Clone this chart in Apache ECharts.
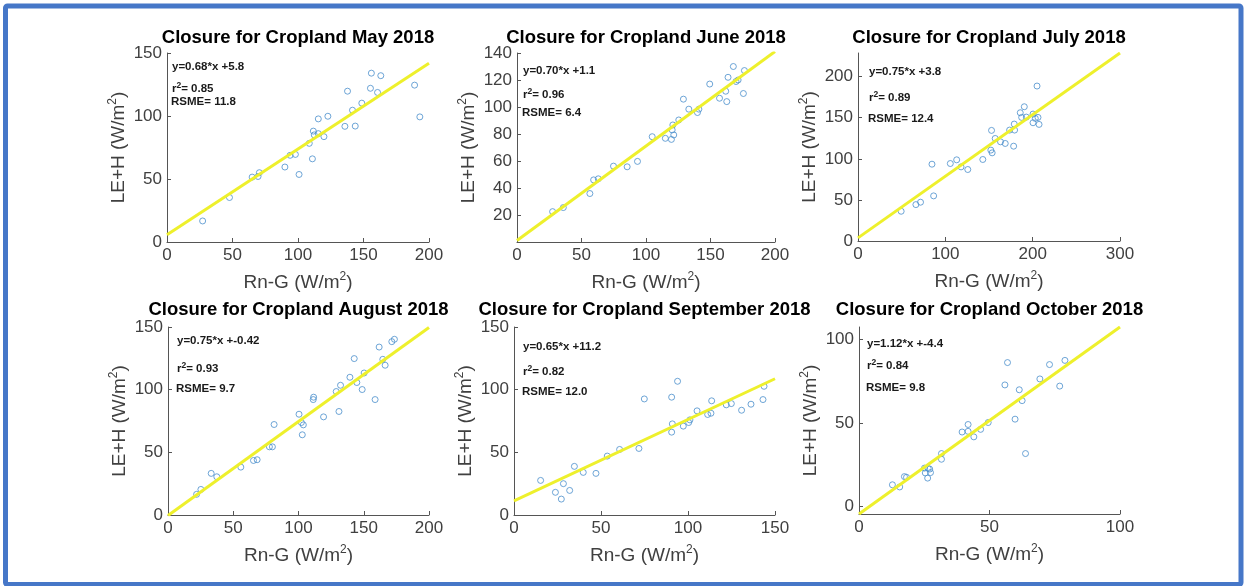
<!DOCTYPE html>
<html>
<head>
<meta charset="utf-8">
<title>Energy balance closure – Cropland 2018</title>
<script src="https://cdn.jsdelivr.net/npm/echarts@6/dist/echarts.min.js"></script>
<style>
  html, body { margin: 0; padding: 0; background: #fff; }
  #chart { width: 1247px; height: 586px; }
</style>
</head>
<body>
<div id="chart"></div>
<script>
// ---- Monthly closure data: Rn-G (x) versus LE+H (y), W/m2 ----
const months = ['May', 'June', 'July', 'August', 'September', 'October'];

const mayX = [27.2, 47.7, 65, 70.5, 69.5, 90, 94, 98, 100.8, 111, 108.6, 111.7, 112.4, 115.5, 115.5, 119.8, 122.8, 135.8, 137.8, 143.7, 141.6, 148.7, 155.3, 156, 160.7, 163.2, 189, 193];
const mayY = [16.7, 35.3, 51.5, 55, 52, 59.5, 68.8, 69.5, 53.6, 66, 78.3, 88, 85, 86, 97.7, 83.6, 99.8, 91.8, 119.7, 92, 104.6, 110.2, 122, 134, 118.7, 132, 124.5, 99.3];

const junX = [27.6, 35.9, 56.5, 59.4, 63, 74.8, 85.4, 93.4, 104.8, 115, 119.7, 120.3, 121.5, 120.8, 125.4, 129, 133.2, 139.9, 141, 149.4, 157, 161.8, 162.6, 163.6, 167.7, 169.8, 171.4, 175.5, 176.3];
const junY = [22.5, 25.5, 35.9, 46, 46.8, 56.2, 55.7, 59.7, 78, 76.8, 76, 83, 79.3, 86.7, 90.4, 105.8, 98.4, 95.9, 98.4, 117, 106.5, 111.7, 104, 122, 130, 118.9, 120, 110, 127];

const julX = [49.4, 66.3, 71.6, 84.7, 86.6, 105.7, 113, 118, 125.7, 142.9, 152.1, 153.6, 152.9, 157.1, 163.2, 168.6, 173.6, 178.2, 179.3, 178.9, 185.8, 187.4, 190.4, 192.7, 200.4, 200.4, 203, 205, 206.1, 207.3];
const julY = [36.2, 44.3, 47.2, 93.5, 54.9, 94.3, 98.8, 90.2, 87, 99.2, 110.6, 107.3, 134.6, 124.8, 120.7, 118.7, 135, 115.4, 135, 142.3, 156.1, 150.4, 163.4, 150.8, 154.5, 143.9, 149.2, 188.6, 150.4, 141.9];

const augX = [21.9, 25.2, 33.1, 37.4, 55.8, 65.5, 68.3, 77.7, 80, 81.3, 100.4, 102.2, 103.7, 102.9, 111.3, 111.6, 119.2, 128.9, 131, 132.2, 139.4, 142.7, 144.7, 148.8, 150.3, 158.7, 161.8, 164.6, 166.4, 171.5, 173.5];
const augY = [16.5, 20.4, 33.2, 30.5, 38.2, 43.5, 44.1, 54.4, 54.4, 72.2, 80.4, 73.8, 71.9, 64, 92.1, 94, 78.3, 98.5, 82.6, 103.5, 109.9, 124.8, 105.7, 100.1, 113.3, 92.1, 134, 124.2, 119.5, 138.3, 140.2];

const sepX = [15.3, 23.8, 27.2, 28.4, 32, 34.7, 39.8, 47.1, 53.6, 60.7, 71.8, 74.9, 90.6, 91, 90.6, 94, 97.3, 100.4, 101.1, 105.2, 111.3, 113.2, 113.6, 122, 124.9, 130.8, 136.2, 143.1, 143.7];
const sepY = [27.6, 18.1, 12.7, 25, 19.6, 38.8, 34, 33.2, 47, 52.3, 53.1, 92.6, 94, 72.7, 66.1, 106.7, 70.9, 73.8, 75.9, 83.1, 80.2, 81.2, 91.1, 87.9, 88.9, 83.6, 88.4, 92.1, 102.7];

const octX = [12.8, 15.6, 17.4, 18.2, 25.1, 25.4, 26.5, 26.3, 27.4, 27.1, 31.6, 31.6, 39.5, 41.8, 41.8, 44, 46.6, 49.5, 55.9, 56.9, 59.8, 61.4, 62.5, 63.8, 69.3, 73, 76.9, 78.9];
const octY = [13.1, 11.8, 18, 17.6, 23.1, 20.2, 22.9, 17.1, 20.4, 22.5, 31.8, 28.4, 44.7, 49.2, 45.1, 41.8, 46.3, 50.4, 72.9, 86.3, 52.4, 70, 63.5, 31.8, 76.5, 85.1, 72.2, 87.6];

// Linear fit statistics printed in each panel
const slopes     = [0.68, 0.70, 0.75, 0.75, 0.65, 1.12];
const intercepts = [5.8, 1.1, 3.8, -0.42, 11.2, -4.4];
const r2Values   = ['0.85', '0.96', '0.89', '0.93', '0.82', '0.84'];
const rsmeValues = ['11.8', '6.4', '12.4', '9.7', '12.0', '9.8'];
const fitLabels  = ['0.68*x +5.8', '0.70*x +1.1', '0.75*x +3.8', '0.75*x +-0.42', '0.65*x +11.2', '1.12*x +-4.4'];

// Axis ranges and tick labels
const xRanges = [[0, 200], [0, 200], [0, 300], [0, 200], [0, 150], [0, 100]];
const yRanges = [[0, 150], [0, 140], [0, 228.8], [0, 150], [0, 150], [-4.4, 107.6]];
const xTicks = [[0, 50, 100, 150, 200], [0, 50, 100, 150, 200], [0, 100, 200, 300], [0, 50, 100, 150, 200], [0, 50, 100, 150], [0, 50, 100]];
const yTicks = [[0, 50, 100, 150], [20, 40, 60, 80, 100, 120, 140], [0, 50, 100, 150, 200], [0, 50, 100, 150], [0, 50, 100, 150], [0, 50, 100]];

const xs = [mayX, junX, julX, augX, sepX, octX];
const ys = [mayY, junY, julY, augY, sepY, octY];

// ---- Layout ----
const FONT = '"Liberation Sans", Arial, Helvetica, sans-serif';
const grids = [
  { left: 167, top: 53, width: 262, height: 189 },
  { left: 517, top: 53, width: 258, height: 189 },
  { left: 858, top: 53, width: 262, height: 188 },
  { left: 168, top: 327, width: 261, height: 188 },
  { left: 514, top: 327, width: 261, height: 188 },
  { left: 859, top: 327, width: 261, height: 187 }
];
// annotation offsets (dx from the y axis, dy of each line from the plot top)
const notePos = [
  { dx: 5, dy: [14, 35, 49] },
  { dx: 6, dy: [18, 41, 60] },
  { dx: 11, dy: [19, 44, 66] },
  { dx: 9, dy: [14, 41, 62] },
  { dx: 9, dy: [20, 44, 65] },
  { dx: 8, dy: [17, 38, 61] }
];

const AXIS_COLOR = '#555555';
const LABEL_COLOR = '#404040';
const nameRich = {
  a: { fontSize: 19, fontFamily: FONT, color: LABEL_COLOR, lineHeight: 24, verticalAlign: 'middle' },
  s: { fontSize: 12, fontFamily: FONT, color: LABEL_COLOR, lineHeight: 24, verticalAlign: 'top' }
};
const unitName = (q) => '{a|' + q + ' (W/m}{s|2}{a|)}';

const option = {
  backgroundColor: '#ffffff',
  animation: false,
  grid: grids.map(g => Object.assign({ containLabel: false }, g)),
  xAxis: [], yAxis: [], series: [], graphic: []
};

function axisCommon(range, ticks) {
  return {
    min: range[0], max: range[1],
    splitLine: { show: false },
    axisLine: { show: true, onZero: false, lineStyle: { color: AXIS_COLOR, width: 1 } },
    axisTick: { show: true, inside: true, length: 4, customValues: ticks, lineStyle: { color: AXIS_COLOR } },
    axisLabel: { customValues: ticks, color: LABEL_COLOR, fontSize: 17, fontFamily: FONT }
  };
}

months.forEach((m, i) => {
  const g = grids[i];
  const xa = axisCommon(xRanges[i], xTicks[i]);
  Object.assign(xa, {
    type: 'value', gridIndex: i, position: 'bottom',
    name: unitName('Rn-G'), nameLocation: 'middle', nameGap: 29,
    nameTextStyle: { rich: nameRich }
  });
  xa.axisLabel.margin = 5;
  const ya = axisCommon(yRanges[i], yTicks[i]);
  Object.assign(ya, {
    type: 'value', gridIndex: i, position: 'left',
    name: unitName('LE+H'), nameLocation: 'middle', nameGap: 36,
    nameTextStyle: { rich: nameRich }
  });
  ya.axisLabel.margin = 5;
  option.xAxis.push(xa);
  option.yAxis.push(ya);

  // observations
  option.series.push({
    type: 'scatter', xAxisIndex: i, yAxisIndex: i,
    data: xs[i].map((x, k) => [x, ys[i][k]]),
    symbol: 'circle', symbolSize: 6,
    itemStyle: { color: 'rgba(0,0,0,0)', borderColor: '#4a8fcc', borderWidth: 1 },
    z: 3
  });
  // fitted regression line from the printed slope / intercept
  const x0 = xRanges[i][0], x1 = xRanges[i][1];
  option.series.push({
    type: 'line', xAxisIndex: i, yAxisIndex: i,
    data: [[x0, slopes[i] * x0 + intercepts[i]], [x1, slopes[i] * x1 + intercepts[i]]],
    symbol: 'none', clip: true,
    lineStyle: { color: '#eef02c', width: 3 },
    z: 4
  });

  // panel title
  option.graphic.push({
    type: 'text', x: g.left + g.width / 2, y: g.top - (i < 3 ? 15 : 17),
    style: { text: 'Closure for Cropland ' + m + ' 2018', font: 'bold 18.5px ' + FONT, fill: '#000',
             align: 'center', verticalAlign: 'middle' }
  });
  // fit statistics
  const p = notePos[i];
  const noteFont = 'bold 11.5px ' + FONT;
  option.graphic.push({
    type: 'text', x: g.left + p.dx, y: g.top + p.dy[0],
    style: { text: 'y=' + fitLabels[i], font: noteFont, fill: '#1a1a1a', verticalAlign: 'middle' }
  });
  option.graphic.push({
    type: 'text', x: g.left + p.dx, y: g.top + p.dy[1],
    style: {
      text: '{b|r}{s|2}{b|= ' + r2Values[i] + '}', verticalAlign: 'middle',
      rich: {
        b: { font: noteFont, fill: '#1a1a1a', lineHeight: 14, verticalAlign: 'bottom' },
        s: { font: 'bold 8.5px ' + FONT, fill: '#1a1a1a', lineHeight: 14, verticalAlign: 'top' }
      }
    }
  });
  option.graphic.push({
    type: 'text', x: g.left + p.dx - 1, y: g.top + p.dy[2],
    style: { text: 'RSME= ' + rsmeValues[i], font: noteFont, fill: '#1a1a1a', verticalAlign: 'middle' }
  });
});

// blue frame around the figure
option.graphic.push({
  type: 'rect', z: 100,
  shape: { x: 5.5, y: 6, width: 1235.5, height: 578.5, r: 2 },
  style: { fill: 'none', stroke: '#4677c8', lineWidth: 5 }
});

const chart = echarts.init(document.getElementById('chart'), null, { renderer: 'canvas' });
chart.setOption(option);
</script>
</body>
</html>
